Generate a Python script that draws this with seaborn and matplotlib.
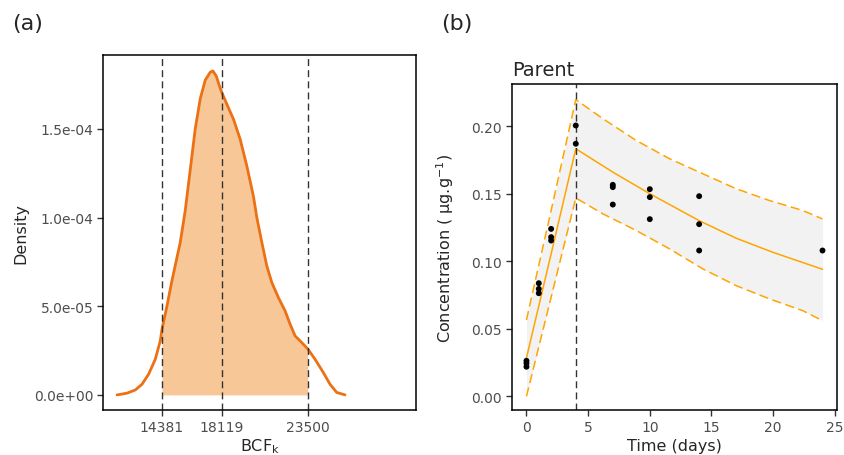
import numpy as np
import pandas as pd
import matplotlib
matplotlib.use("Agg")
import matplotlib.pyplot as plt
from matplotlib.ticker import FuncFormatter
import seaborn as sns

# (a) posterior density of BCFk (in units of 1e-5)
bcf_x = [11569, 12194, 12712, 13131, 13544, 13962, 14275, 14381, 14694, 15006,
         15319, 15525, 15837, 16150, 16462, 16775, 17087, 17400, 17568, 17775,
         17981, 18119, 18444, 18856, 19275, 19693, 20106, 20319, 20631, 20944,
         21256, 21668, 22087, 22400, 22712, 23131, 23500, 23962, 24481, 24900,
         25319, 25837]
bcf_density_e5 = [0.0, 0.10, 0.28, 0.60, 1.17, 2.01, 3.05, 3.70, 5.02, 6.45,
                  7.75, 8.6, 10.4, 12.7, 15.0, 16.7, 17.75, 18.2, 18.27, 17.99,
                  17.42, 17.07, 16.39, 15.55, 14.42, 12.91, 11.2, 10.0, 8.6, 7.27,
                  6.34, 5.49, 4.74, 3.99, 3.33, 2.95, 2.60, 2.01, 1.26, 0.60,
                  0.14, 0.0]
bcf_quantiles = [14381, 18119, 23500]

# (b) observed concentrations
obs_day = [0, 0, 0, 1, 1, 1, 2, 2, 2, 4, 4, 7, 7, 7, 10, 10, 10, 14, 14, 14, 24]
obs_conc = [0.0263, 0.0244, 0.0219, 0.0837, 0.0795, 0.0763, 0.1239, 0.1178, 0.1153,
            0.2004, 0.1869, 0.1565, 0.1548, 0.1419, 0.1533, 0.1474, 0.1311,
            0.1481, 0.1274, 0.1079, 0.1079]

# (b) model fit and 95% band
fit_day = [0, 2, 4, 7, 10, 14, 17, 20, 24]
fit_conc = [0.0284, 0.1054, 0.1832, 0.1659, 0.1499, 0.1300, 0.1170, 0.1065, 0.0940]
band_day = [0, 2, 4, 6.2, 8.9, 11.6, 14.3, 17.0, 19.7, 22.4, 24.0]
band_upper = [0.0565, 0.1375, 0.2196, 0.2054, 0.1893, 0.1758, 0.1647, 0.1536, 0.1449, 0.1375, 0.1313]
band_lower = [0.0, 0.0733, 0.1468, 0.1350, 0.1227, 0.1091, 0.0943, 0.0819, 0.0721, 0.0634, 0.0560]
end_uptake = 4

dens = pd.DataFrame({"bcf": bcf_x, "density": np.array(bcf_density_e5) * 1e-5})
obs = pd.DataFrame({"day": obs_day, "conc": obs_conc})
fit = pd.DataFrame({"day": fit_day, "conc": fit_conc})
band = pd.DataFrame({"day": band_day, "upper": band_upper, "lower": band_lower})

sns.set_style("ticks")
plt.rcParams["font.family"] = ["DejaVu Sans"]
plt.rcParams["mathtext.fontset"] = "dejavusans"

fig = plt.figure(figsize=(8.45, 4.56), dpi=100)
ax1 = fig.add_axes([0.1219, 0.0987, 0.3704, 0.7785])
ax2 = fig.add_axes([0.6055, 0.0987, 0.3854, 0.7143])

# panel (a)
in_ci = (dens["bcf"] >= bcf_quantiles[0]) & (dens["bcf"] <= bcf_quantiles[-1])
ax1.fill_between(dens["bcf"], dens["density"], where=in_ci, color="#F7C797", lw=0)
sns.lineplot(data=dens, x="bcf", y="density", ax=ax1, color="#EC7014", lw=2,
             estimator=None, sort=False)
for q in bcf_quantiles:
    ax1.axvline(q, color="#333333", lw=1, ls=(0, (5, 3)))
ax1.set_xlim(10690, 30280)
ax1.set_ylim(-8.5e-6, 1.917e-4)
ax1.set_xticks(bcf_quantiles)
ax1.set_yticks([0, 5e-5, 1e-4, 1.5e-4])
ax1.yaxis.set_major_formatter(FuncFormatter(lambda v, p: f"{v:.1e}"))
ax1.set_xlabel("BCF$_\\mathrm{k}$", fontsize=11.5)
ax1.set_ylabel("Density", fontsize=11.5)
ax1.xaxis.set_label_coords(0.5, -0.074)
ax1.yaxis.set_label_coords(-0.24, 0.5)

# panel (b)
ax2.fill_between(band["day"], band["lower"], band["upper"], color="#F2F2F2", lw=0)
sns.lineplot(data=band, x="day", y="upper", ax=ax2, color="#FFA500", lw=1.1,
             ls=(0, (6, 3)), estimator=None)
sns.lineplot(data=band, x="day", y="lower", ax=ax2, color="#FFA500", lw=1.1,
             ls=(0, (6, 3)), estimator=None)
sns.lineplot(data=fit, x="day", y="conc", ax=ax2, color="#FFA500", lw=1.1, estimator=None)
ax2.axvline(end_uptake, color="#333333", lw=1, ls=(0, (5, 3)))
sns.scatterplot(data=obs, x="day", y="conc", ax=ax2, color="black", s=18,
                edgecolor="none", zorder=5)
ax2.set_xlim(-1.2, 25.2)
ax2.set_ylim(-0.0101, 0.2309)
ax2.set_xticks([0, 5, 10, 15, 20, 25])
ax2.set_yticks([0, 0.05, 0.10, 0.15, 0.20])
ax2.yaxis.set_major_formatter(FuncFormatter(lambda v, p: f"{v:.2f}"))
ax2.set_xlabel("Time (days)", fontsize=11.5)
ax2.set_ylabel("Concentration ( μg.g$^{-1}$)", fontsize=11.5)
ax2.xaxis.set_label_coords(0.5, -0.085)
ax2.yaxis.set_label_coords(-0.17, 0.5)
ax2.set_title("Parent", loc="left", fontsize=14, pad=7)

for ax in (ax1, ax2):
    for s in ax.spines.values():
        s.set_visible(True)
        s.set_color("black")
        s.set_linewidth(1.1)
    ax.tick_params(direction="out", length=4, width=1, color="#333333",
                   labelcolor="#4D4D4D", labelsize=10, pad=3)

fig.text(0.014, 0.947, "(a)", fontsize=16, va="center")
fig.text(0.5215, 0.947, "(b)", fontsize=16, va="center")

fig.savefig("out.png", dpi=100)
